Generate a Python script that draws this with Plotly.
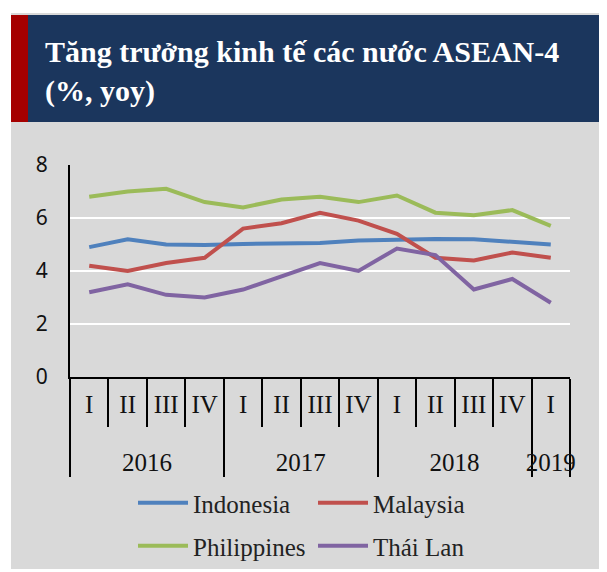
import plotly.graph_objects as go

# Quarterly GDP growth, % yoy
years = ["2016"] * 4 + ["2017"] * 4 + ["2018"] * 4 + ["2019"]
quarters = ["I", "II", "III", "IV"] * 3 + ["I"]

indonesia = [4.9, 5.2, 5.0, 4.98, 5.02, 5.05, 5.06, 5.15, 5.19, 5.21, 5.2, 5.1, 5.0]
malaysia = [4.2, 4.0, 4.3, 4.5, 5.6, 5.8, 6.2, 5.9, 5.4, 4.5, 4.4, 4.7, 4.5]
philippines = [6.8, 7.0, 7.1, 6.6, 6.4, 6.7, 6.8, 6.6, 6.85, 6.2, 6.1, 6.3, 5.7]
thailand = [3.2, 3.5, 3.1, 3.0, 3.3, 3.8, 4.3, 4.0, 4.85, 4.6, 3.3, 3.7, 2.8]

series = [
    ("Indonesia", indonesia, "#4f81bd", "legend"),
    ("Malaysia", malaysia, "#c0504d", "legend"),
    ("Philippines", philippines, "#9bbb59", "legend2"),
    ("Thái Lan", thailand, "#8064a2", "legend2"),
]

# the page body adds an 8px margin, so the figure is a bit smaller than the window
OFF = 8
W, H = 607 - OFF, 572 - OFF
ML, MR, MT, MB = 62, 37, 157, 195
PW, PH = W - ML - MR, H - MT - MB
GRAY = "#d9d9d9"
NAVY = "#1b365d"
SERIF = "Liberation Serif"


def px_x(px):
    # screen px -> paper x
    return (px - OFF - ML) / PW


def px_y(py):
    # screen px -> paper y
    return (H - MB - (py - OFF)) / PH


# leading blank line pushes the year row further below the quarter row
year_labels = ["<br>" + y for y in years]

fig = go.Figure()
for name, vals, color, leg in series:
    fig.add_trace(go.Scatter(x=[year_labels, quarters], y=vals, name=name, mode="lines",
                             line=dict(color=color, width=4), legend=leg))

shapes = [
    # white frame + gray panel
    dict(type="rect", xref="paper", yref="paper", x0=px_x(0), x1=px_x(620), y0=px_y(600), y1=px_y(0),
         fillcolor="white", line_width=0, layer="below"),
    dict(type="rect", xref="paper", yref="paper", x0=px_x(11), x1=px_x(620), y0=px_y(569), y1=px_y(13),
         fillcolor=GRAY, line_width=0, layer="below"),
    # title banner
    dict(type="rect", xref="paper", yref="paper", x0=px_x(28), x1=px_x(620), y0=px_y(122), y1=px_y(15),
         fillcolor=NAVY, line_width=0, layer="below"),
    dict(type="rect", xref="paper", yref="paper", x0=px_x(11), x1=px_x(28), y0=px_y(122), y1=px_y(15),
         fillcolor="#a50000", line_width=0, layer="below"),
]

leg_font = dict(family=SERIF, size=25, color="#222")

fig.update_layout(
    width=W, height=H,
    margin=dict(l=ML, r=MR, t=MT, b=MB, autoexpand=False),
    paper_bgcolor=GRAY, plot_bgcolor=GRAY,
    shapes=shapes,
    annotations=[dict(text="<b>Tăng trưởng kinh tế các nước ASEAN-4<br>(%, yoy)</b>",
                      xref="paper", yref="paper", x=px_x(43), y=px_y(71),
                      xanchor="left", yanchor="middle", align="left", showarrow=False,
                      font=dict(family=SERIF, size=30, color="white"))],
    legend=dict(orientation="h", x=px_x(133), y=px_y(480), xanchor="left", yanchor="top",
                itemwidth=50, entrywidth=115, entrywidthmode="pixels", bgcolor="rgba(0,0,0,0)",
                font=leg_font),
    legend2=dict(orientation="h", x=px_x(133), y=px_y(523), xanchor="left", yanchor="top",
                 itemwidth=50, entrywidth=115, entrywidthmode="pixels", bgcolor="rgba(0,0,0,0)",
                 font=leg_font),
)

fig.update_yaxes(range=[0, 8], dtick=2, showgrid=True, gridcolor="white", gridwidth=2,
                 showline=True, linecolor="black", linewidth=2, zeroline=False,
                 ticks="outside", ticklen=16, tickcolor="rgba(0,0,0,0)", automargin=False,
                 tickfont=dict(family="Noto Sans", size=21, color="#111"))
fig.update_xaxes(type="multicategory", range=[-0.5, 12.5], showline=True, linecolor="black",
                 linewidth=2, showgrid=False, ticks="outside", tickson="boundaries", ticklen=48,
                 tickcolor="black", tickwidth=2, showdividers=True, dividercolor="black",
                 dividerwidth=2, automargin=False, ticklabelstandoff=4,
                 tickfont=dict(family=SERIF, size=25, color="#111"))

fig.write_html("out.html")
